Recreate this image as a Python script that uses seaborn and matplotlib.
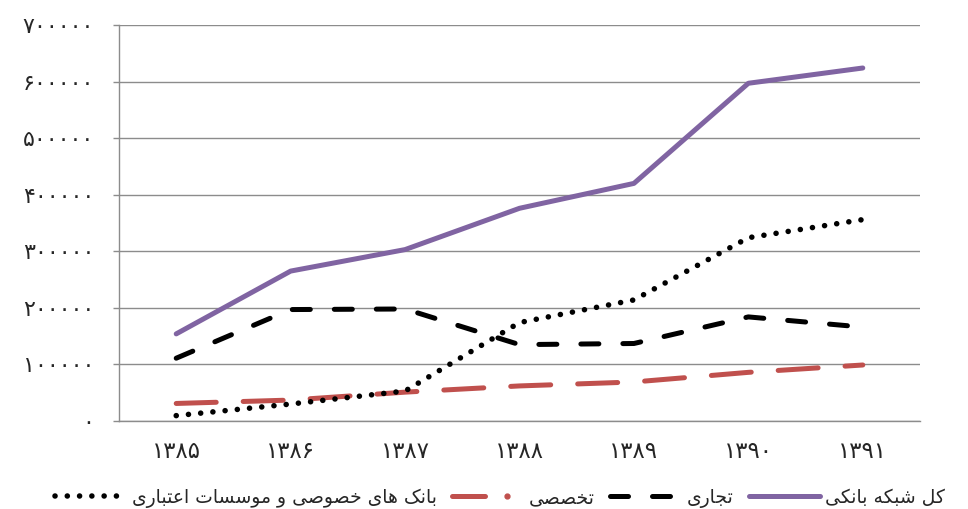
import matplotlib
matplotlib.use("Agg")
import matplotlib.pyplot as plt
from matplotlib.legend_handler import HandlerTuple
from matplotlib.lines import Line2D
import seaborn as sns
import pandas as pd

# ---------------- data ----------------
years = ["۱۳۸۵", "۱۳۸۶", "۱۳۸۷", "۱۳۸۸", "۱۳۸۹", "۱۳۹۰", "۱۳۹۱"]
total_network = [154000, 265000, 303000, 376000, 420000, 597000, 624000]   # کل شبکه بانکی
commercial = [111000, 197000, 198000, 135000, 137000, 184000, 166000]      # تجاری
specialized = [31000, 37000, 51000, 62000, 69000, 86000, 99000]            # تخصصی
private_banks = [9500, 30000, 53000, 174000, 214000, 324000, 356000]       # بانک های خصوصی و موسسات اعتباری
y_ticks = [0, 100000, 200000, 300000, 400000, 500000, 600000, 700000]
y_tick_labels = ["۰", "۱۰۰۰۰۰", "۲۰۰۰۰۰", "۳۰۰۰۰۰", "۴۰۰۰۰۰", "۵۰۰۰۰۰", "۶۰۰۰۰۰", "۷۰۰۰۰۰"]
label_total = "کل شبکه بانکی"
label_commercial = "تجاری"
label_specialized = "تخصصی"
label_private = "بانک های خصوصی و موسسات اعتباری"

# ------------- simple Arabic/Persian shaping -------------
FORMS = {  # iso, fin, ini, med  (None for ini/med => right-joining only)
    "\u0627": ("\uFE8D", "\uFE8E", None, None),
    "\u0628": ("\uFE8F", "\uFE90", "\uFE91", "\uFE92"),
    "\u062A": ("\uFE95", "\uFE96", "\uFE97", "\uFE98"),
    "\u062C": ("\uFE9D", "\uFE9E", "\uFE9F", "\uFEA0"),
    "\u062E": ("\uFEA5", "\uFEA6", "\uFEA7", "\uFEA8"),
    "\u0631": ("\uFEAD", "\uFEAE", None, None),
    "\u0633": ("\uFEB1", "\uFEB2", "\uFEB3", "\uFEB4"),
    "\u0634": ("\uFEB5", "\uFEB6", "\uFEB7", "\uFEB8"),
    "\u0635": ("\uFEB9", "\uFEBA", "\uFEBB", "\uFEBC"),
    "\u0639": ("\uFEC9", "\uFECA", "\uFECB", "\uFECC"),
    "\u0644": ("\uFEDD", "\uFEDE", "\uFEDF", "\uFEE0"),
    "\u0645": ("\uFEE1", "\uFEE2", "\uFEE3", "\uFEE4"),
    "\u0646": ("\uFEE5", "\uFEE6", "\uFEE7", "\uFEE8"),
    "\u0647": ("\uFEE9", "\uFEEA", "\uFEEB", "\uFEEC"),
    "\u0648": ("\uFEED", "\uFEEE", None, None),
    "\u06A9": ("\uFB8E", "\uFB8F", "\uFB90", "\uFB91"),
    "\u06CC": ("\uFBFC", "\uFBFD", "\uFBFE", "\uFBFF"),
}


def shape(text):
    out = []
    n = len(text)
    for i, ch in enumerate(text):
        if ch not in FORMS:
            out.append(ch)
            continue
        f = FORMS[ch]
        prev = text[i - 1] if i > 0 else None
        nxt = text[i + 1] if i < n - 1 else None
        join_prev = prev in FORMS and FORMS[prev][2] is not None
        join_next = nxt in FORMS and f[2] is not None
        if join_prev and join_next:
            out.append(f[3])
        elif join_prev:
            out.append(f[1])
        elif join_next:
            out.append(f[2])
        else:
            out.append(f[0])
    return "".join(out)[::-1]


# ---------------- plot ----------------
sns.set_theme(style="white")
plt.rcParams["font.family"] = ["DejaVu Sans"]

fig = plt.figure(figsize=(9.68, 5.09), dpi=100)
ax = fig.add_axes([119 / 968, 1 - 421 / 509, (920 - 119) / 968, (421 - 25) / 509])

df = pd.DataFrame({
    "year": years,
    "total": total_network,
    "commercial": commercial,
    "specialized": specialized,
    "private": private_banks,
})

purple = "#8064A2"
red = "#C0504D"
LW = 3.6
DASH_BLACK = (0, (3.6, 4.8))
DASH_RED = (0, (8.0, 5.4))
DOTS = (0, (0.01, 2.2))

sns.lineplot(data=df, x="year", y="total", ax=ax, color=purple, linewidth=LW,
             solid_capstyle="round", solid_joinstyle="round", sort=False)
sns.lineplot(data=df, x="year", y="commercial", ax=ax, color="black", linewidth=LW,
             linestyle=DASH_BLACK, dash_capstyle="round", sort=False)
sns.lineplot(data=df, x="year", y="specialized", ax=ax, color=red, linewidth=LW,
             linestyle=DASH_RED, dash_capstyle="round", sort=False)
sns.lineplot(data=df, x="year", y="private", ax=ax, color="black", linewidth=4.0,
             linestyle=DOTS, dash_capstyle="round", sort=False)

ax.set_xlim(-0.5, len(years) - 0.5)
ax.set_ylim(0, 700000)
ax.set_yticks(y_ticks)
ax.set_yticklabels(y_tick_labels)
ax.set_xlabel("")
ax.set_ylabel("")
ax.grid(axis="y", color="#8C8C8C", linewidth=1.0)
ax.grid(axis="x", visible=False)
ax.set_axisbelow(True)
for s in ["top", "right"]:
    ax.spines[s].set_visible(False)
for s in ["left", "bottom"]:
    ax.spines[s].set_color("#8C8C8C")
    ax.spines[s].set_linewidth(1.0)
ax.tick_params(axis="y", which="major", length=4, width=1, color="#8C8C8C",
               direction="out", pad=14, labelsize=16, left=True)
ax.tick_params(axis="x", length=0, pad=14, labelsize=16.5)

# legend
h_private = Line2D([], [], color="black", linewidth=4.0, linestyle=DOTS,
                   dash_capstyle="round")
h_spec_line = Line2D([], [], color=red, linewidth=LW, linestyle="-", solid_capstyle="round")
h_spec_dot = Line2D([], [], color=red, marker="o", markersize=3.5, linestyle="none")
h_comm = Line2D([], [], color="black", linewidth=LW, linestyle=DASH_BLACK,
                dash_capstyle="round")
h_total = Line2D([], [], color=purple, linewidth=LW, solid_capstyle="round")

leg = ax.legend(
    [h_private, (h_spec_line, h_spec_dot), h_comm, h_total],
    [shape(label_private), shape(label_specialized), shape(label_commercial), shape(label_total)],
    handler_map={tuple: HandlerTuple(ndivide=None, pad=0.3)},
    ncol=4, frameon=False, fontsize=13.5,
    loc="lower left", bbox_to_anchor=(44 / 968, -0.02), bbox_transform=fig.transFigure,
    handlelength=3.8, handletextpad=0.3, columnspacing=0.8, borderaxespad=0.2,
)

fig.savefig("out.png", dpi=100)
